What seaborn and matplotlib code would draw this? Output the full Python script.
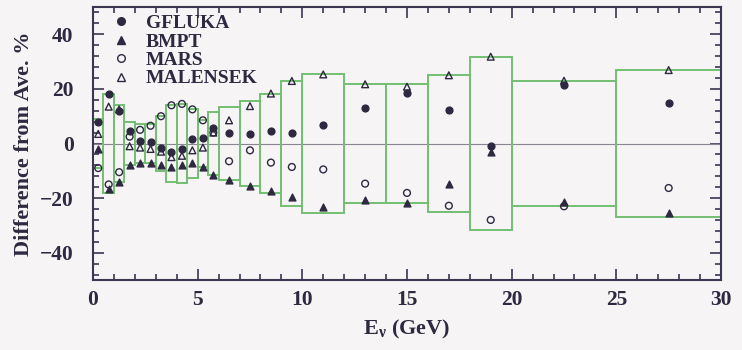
import numpy as np
import pandas as pd
import matplotlib
matplotlib.use("Agg")
import matplotlib.pyplot as plt
from matplotlib.lines import Line2D
from matplotlib.ticker import MultipleLocator
import seaborn as sns

# ---------------- data ----------------
bin_edges = [0, 0.5, 1.0, 1.5, 2.0, 2.5, 3.0, 3.5, 4.0, 4.5, 5.0, 5.5, 6.0,
             7, 8, 9, 10, 12, 14, 16, 18, 20, 25, 30]

gfluka = [8, 18, 12, 4.5, 1, 0.5, -1.5, -3, -2, 1.5, 2, 5.5,
          4, 3.3, 4.5, 4, 6.7, 13.1, 18.6, 12.2, -1, 21.5, 14.9]
bmpt = [-2, -16.5, -14, -8, -7, -7, -8, -8.5, -8, -7, -8.5, -11.5,
        -13.5, -15.4, -17.5, -19.5, -23.2, -20.6, -21.8, -15, -3, -21.5, -25.4]
mars = [-9, -15, -10.5, 2.5, 5, 6.5, 10, 14, 14.5, 12.5, 8.5, 4,
        -6.5, -2.5, -7, -8.6, -9.5, -14.7, -18.1, -22.8, -28, -23, -16.3]
malensek = [3.5, 13.5, 12.5, -1, -1.5, -2, -3, -5, -4.5, -2.5, -1.5, 4,
            8.5, 13.7, 18.3, 22.9, 25.3, 21.7, 20.8, 25, 31.8, 23, 26.9]

series_names = ["GFLUKA", "BMPT", "MARS", "MALENSEK"]

# ---------------- style ----------------
sns.set_theme(style="ticks")
plt.rcParams["font.family"] = ["Liberation Serif", "DejaVu Serif"]
plt.rcParams["font.weight"] = "bold"
plt.rcParams["mathtext.fontset"] = "custom"
plt.rcParams["mathtext.rm"] = "Liberation Serif:bold"
plt.rcParams["mathtext.it"] = "Liberation Serif:bold"
plt.rcParams["mathtext.bf"] = "Liberation Serif:bold"

ink = "#2e2840"
axis_col = "#3d3552"
green = "#72bf72"
bg = "#f6f4f4"

edges = np.array(bin_edges, dtype=float)
centers = (edges[:-1] + edges[1:]) / 2
widths = np.diff(edges)

df = pd.DataFrame({"E": centers, "GFLUKA": gfluka, "BMPT": bmpt,
                   "MARS": mars, "MALENSEK": malensek})
long = df.melt(id_vars="E", var_name="model", value_name="diff")
spread = df[series_names].abs().max(axis=1).to_numpy()

fig = plt.figure(figsize=(7.42, 3.5), dpi=100, facecolor=bg)
ax = fig.add_axes([0.1253, 0.2, 0.8464, 0.78])
ax.set_facecolor(bg)

# zero line
ax.axhline(0, color="#8a8590", lw=0.8, zorder=1)

# spread boxes
ax.bar(centers, 2 * spread, bottom=-spread, width=widths, fill=False,
       edgecolor=green, linewidth=1.4, zorder=2)

styles = {
    "GFLUKA": dict(marker="o", facecolor=ink),
    "BMPT": dict(marker="^", facecolor=ink),
    "MARS": dict(marker="o", facecolor="none"),
    "MALENSEK": dict(marker="^", facecolor="none"),
}
for name in series_names:
    sub = long[long["model"] == name]
    st = styles[name]
    sns.scatterplot(data=sub, x="E", y="diff", ax=ax, marker=st["marker"],
                    s=24, facecolor=st["facecolor"], edgecolor=ink,
                    linewidth=1.0, zorder=4, legend=False)

ax.set_xlim(0, 30)
ax.set_ylim(-50, 50)
ax.xaxis.set_major_locator(MultipleLocator(5))
ax.xaxis.set_minor_locator(MultipleLocator(1))
ax.yaxis.set_major_locator(MultipleLocator(20))
ax.yaxis.set_minor_locator(MultipleLocator(4))
ax.tick_params(which="both", direction="in", top=True, right=True,
               color=axis_col, width=1.2)
ax.tick_params(which="major", length=8)
ax.tick_params(which="minor", length=4)
ax.tick_params(axis="y", which="major", pad=14)
ax.tick_params(axis="x", which="major", pad=7)
for lab in ax.get_xticklabels() + ax.get_yticklabels():
    lab.set_fontsize(15.5)
    lab.set_fontweight("bold")
    lab.set_color(ink)
for sp in ax.spines.values():
    sp.set_color(axis_col)
    sp.set_linewidth(1.5)

ax.set_xlabel(r"E$_\nu$ (GeV)", fontsize=16, fontweight="bold", color=ink, labelpad=6)
ax.set_ylabel("Difference from Ave. %", fontsize=16, fontweight="bold", color=ink,
              labelpad=4)

handles = []
for name in series_names:
    st = styles[name]
    handles.append(Line2D([], [], linestyle="none", marker=st["marker"],
                          markersize=5.5, markerfacecolor=st["facecolor"],
                          markeredgecolor=ink, markeredgewidth=1.0, label=name))
leg = ax.legend(handles=handles, loc="upper left", bbox_to_anchor=(0.022, 0.99),
                frameon=False, fontsize=14, handlelength=1.0, handletextpad=0.75,
                labelspacing=0.04, borderpad=0.25, borderaxespad=0)
for t in leg.get_texts():
    t.set_color(ink)
    t.set_fontweight("bold")

fig.savefig("out.png", dpi=100, facecolor=bg)
